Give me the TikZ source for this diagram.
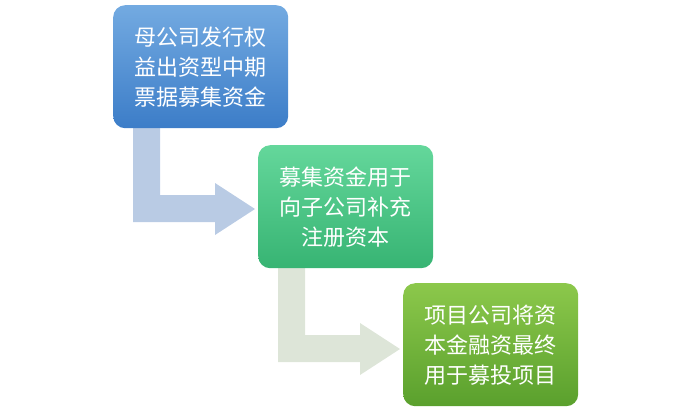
\documentclass[tikz,border=0pt]{standalone}
\usepackage{fontspec}
\newfontfamily\cjk{Noto Sans CJK SC}
\begin{document}
\begin{tikzpicture}[x=1pt,y=-1pt,
  box/.style={rounded corners=12pt,minimum width=175pt,minimum height=123pt,anchor=north west,text=white,font=\cjk\fontsize{22}{30}\selectfont,align=center,inner sep=0pt}]
\useasboundingbox (0,0) rectangle (693,416);
\fill[fill={rgb,255:red,185;green,203;blue,228}] (133,120) -- (160,120) -- (160,195) -- (215,195) -- (215,183) -- (255,209) -- (215,235) -- (215,222) -- (133,222) -- cycle;
\fill[fill={rgb,255:red,221;green,229;blue,216}] (278,260) -- (305,260) -- (305,335) -- (360,335) -- (360,323) -- (400,349) -- (360,375) -- (360,362) -- (278,362) -- cycle;
\node[box,top color={rgb,255:red,115;green,170;blue,225},bottom color={rgb,255:red,60;green,125;blue,200}] (a) at (113,5) {母公司发行权\\益出资型中期\\票据募集资金};
\node[box,top color={rgb,255:red,100;green,215;blue,155},bottom color={rgb,255:red,55;green,180;blue,115}] (b) at (258,145) {募集资金用于\\向子公司补充\\注册资本};
\node[box,top color={rgb,255:red,140;green,200;blue,75},bottom color={rgb,255:red,90;green,160;blue,45}] (c) at (403,283) {项目公司将资\\本金融资最终\\用于募投项目};
\end{tikzpicture}
\end{document}
